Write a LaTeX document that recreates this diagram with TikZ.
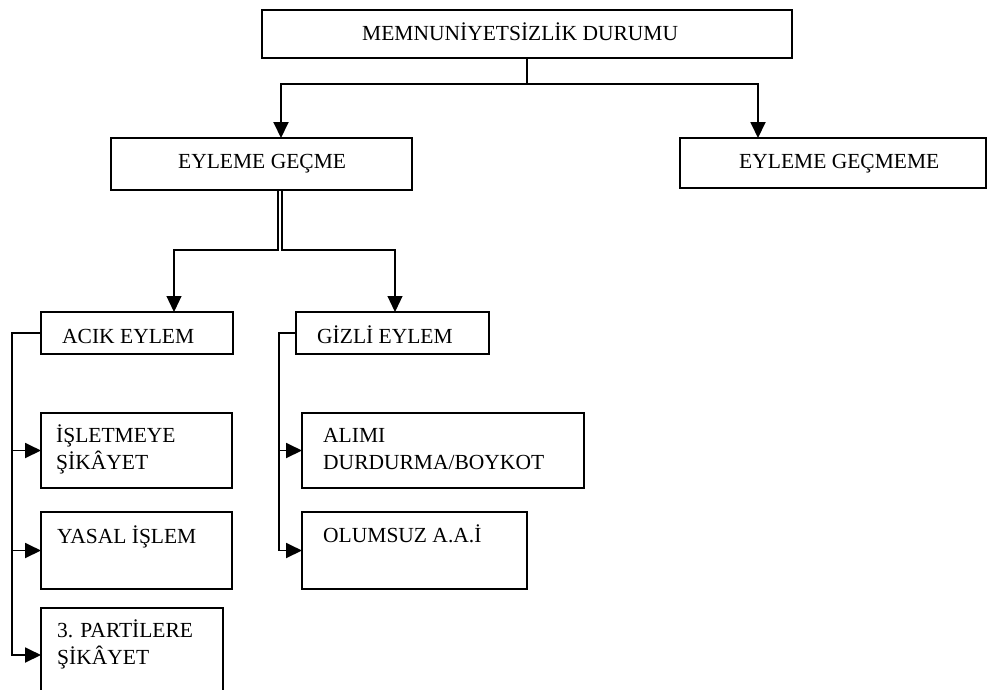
\documentclass[tikz,border=0pt]{standalone}
\usepackage{fontspec}
\setmainfont{Liberation Serif}
\usetikzlibrary{arrows.meta}

\begin{document}
\begin{tikzpicture}[
  x=1pt, y=-1pt,
  box/.style={draw, line width=2pt, rectangle, inner sep=0pt, outer sep=0pt, anchor=north west},
  lbl/.style={inner sep=0pt, anchor=base west, font=\fontsize{21.5}{27.5}\selectfont},
  conn/.style={line width=1.9pt},
  arr/.style={conn, -{Triangle[length=16pt,width=15pt]}},
  strand/.style={line width=1.2pt},
  sarr/.style={strand, -{Triangle[length=16pt,width=15pt]}}
]
% page frame
\clip (0,0) rectangle (987,689);
\fill[white] (0,0) rectangle (987,689);

% boxes
\node[box, minimum width=530pt, minimum height=48pt] (top)   at (262,10)  {};
\node[box, minimum width=301pt, minimum height=52pt] (eg)    at (111,138) {};
\node[box, minimum width=306pt, minimum height=50pt] (egm)   at (680,138) {};
\node[box, minimum width=192pt, minimum height=42pt] (acik)  at (41,312)  {};
\node[box, minimum width=193pt, minimum height=42pt] (gizli) at (296,312) {};
\node[box, minimum width=191pt, minimum height=75pt] (islet) at (41,413)  {};
\node[box, minimum width=191pt, minimum height=77pt] (yasal) at (41,512)  {};
\node[box, minimum width=182pt, minimum height=94pt] (parti) at (41,608)  {};
\node[box, minimum width=282pt, minimum height=75pt] (alim)  at (302,413) {};
\node[box, minimum width=225pt, minimum height=77pt] (olum)  at (302,512) {};

% labels
\node[lbl] (t-top)   at (362,40)  {MEMNUNİYETSİZLİK DURUMU};
\node[lbl] (t-eg)    at (178,168) {EYLEME GEÇME};
\node[lbl] (t-egm)   at (739,168) {EYLEME GEÇMEME};
\node[lbl] (t-acik)  at (62,343)  {ACIK EYLEM};
\node[lbl] (t-gizli) at (317,343) {GİZLİ EYLEM};
\node[lbl] (t-islet) at (56,442)  {\begin{tabular}[t]{@{}l@{}}İŞLETMEYE\\ŞİKÂYET\end{tabular}};
\node[lbl] (t-yasal) at (57,543)  {YASAL İŞLEM};
\node[lbl] (t-parti) at (57,637)  {\begin{tabular}[t]{@{}l@{}}3. PARTİLERE\\ŞİKÂYET\end{tabular}};
\node[lbl] (t-alim)  at (323,442) {\begin{tabular}[t]{@{}l@{}}ALIMI\\DURDURMA/BOYKOT\end{tabular}};
\node[lbl] (t-olum)  at (323,542) {OLUMSUZ A.A.İ};

% junction points
\coordinate (j1) at (527,84);
\coordinate (jl) at (281,84);
\coordinate (jr) at (758,84);
\coordinate (dl) at (278,250);
\coordinate (dr) at (282,250);
\coordinate (al) at (174,250);
\coordinate (ar) at (395,250);
\coordinate (lb) at (12,0);
\coordinate (gb) at (279,0);

% first level
\draw[conn] (top.south) -- (top.south |- j1);
\draw[arr] (j1) -- (jl) -- (jl |- eg.north);
\draw[arr] (j1) -- (jr) -- (jr |- egm.north);

% second level (double stem)
\draw[sarr] (dl |- eg.south) -- (dl) -- (al) -- (al |- acik.north);
\draw[sarr] (dr |- eg.south) -- (dr) -- (ar) -- (ar |- gizli.north);

% open action branch
\draw[arr] (acik.west) -- (acik.west -| lb) -- (parti.west -| lb) -- (parti.west);
\draw[arr] (islet.west -| lb) -- (islet.west);
\draw[arr] (yasal.west -| lb) -- (yasal.west);

% hidden action branch
\draw[arr] (gizli.west) -- (gizli.west -| gb) -- (olum.west -| gb) -- (olum.west);
\draw[arr] (alim.west -| gb) -- (alim.west);
\end{tikzpicture}
\end{document}
